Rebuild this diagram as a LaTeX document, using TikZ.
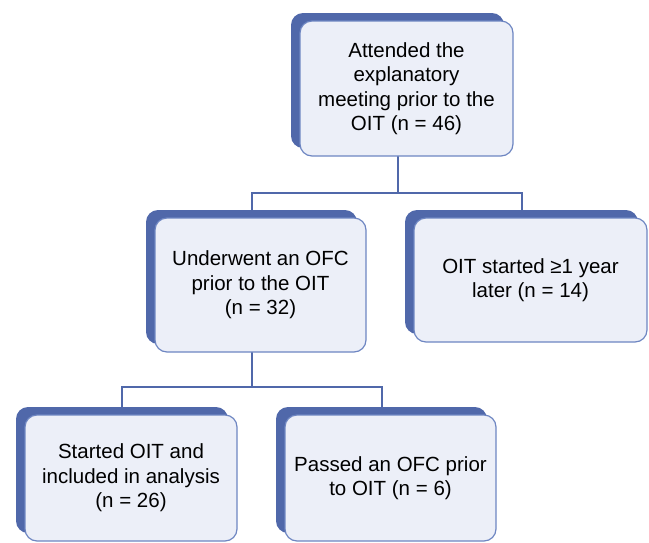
\documentclass[tikz,border=0pt]{standalone}
\usepackage{fontspec}
\setmainfont{Liberation Sans}
\definecolor{boxblue}{HTML}{5068AA}
\definecolor{boxedge}{HTML}{6E86C2}
\definecolor{boxfill}{HTML}{ECEFF8}
\tikzset{
  back/.style 2 args={fill=boxblue, rounded corners=12pt, minimum width=#1, minimum height=#2, inner sep=0pt},
  front/.style 2 args={fill=boxfill, draw=boxedge, line width=1.2pt, rounded corners=12pt, minimum width=#1, minimum height=#2, inner sep=0pt, align=center, font=\fontsize{20.5}{24.5}\selectfont},
  link/.style={draw=boxblue, line width=2pt}
}

\begin{document}
\begin{tikzpicture}[x=1pt, y=-1pt]
\useasboundingbox (0,0) rectangle (649,542);
\node[back={213pt}{135pt}] (attB) at (397.5,80.5) {};
\node[back={211pt}{134pt}] (undB) at (251.5,277) {};
\node[back={233pt}{124pt}] (oitB) at (521.5,272) {};
\node[back={212pt}{126pt}] (staB) at (122,470) {};
\node[back={211pt}{126pt}] (pasB) at (381.5,470) {};
\draw[link] (attB.south) -- ++(0,45) -| (undB.north);
\draw[link] (attB.south) -- ++(0,45) -| (oitB.north);
\draw[link] (undB.south) -- ++(0,43) -| (staB.north);
\draw[link] (undB.south) -- ++(0,43) -| (pasB.north);
\node[front={213pt}{135pt}] (att) at ([shift={(9,8)}]attB) {Attended the\\explanatory\\meeting prior to the\\OIT (n = 46)};
\node[front={211pt}{134pt}] (und) at ([shift={(9,8)}]undB) {Underwent an OFC\\prior to the OIT\\(n = 32)};
\node[front={233pt}{124pt}] (oit) at ([shift={(9,8)}]oitB) {OIT started ≥1 year\\later (n = 14)};
\node[front={212pt}{126pt}] (sta) at ([shift={(9,8)}]staB) {Started OIT and\\included in analysis\\(n = 26)};
\node[front={211pt}{126pt}] (pas) at ([shift={(9,8)}]pasB) {Passed an OFC prior\\to OIT (n = 6)};
\end{tikzpicture}
\end{document}
